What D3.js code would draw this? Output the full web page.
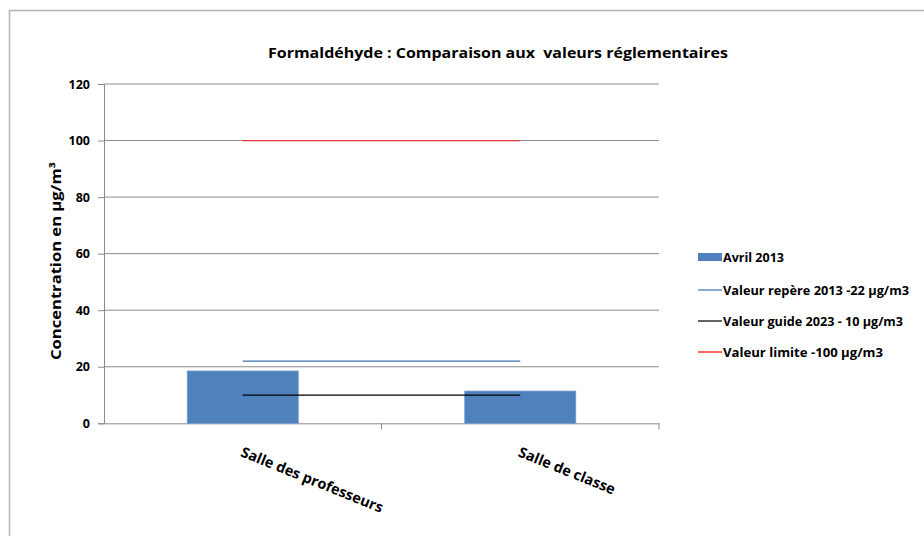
<!DOCTYPE html>
<html><head><meta charset="utf-8">
<script src="https://cdn.jsdelivr.net/npm/d3@7"></script>
<style>
html,body{margin:0;padding:0;background:#fff;}
text{font-family:"Open Sans","Noto Sans",sans-serif;font-weight:bold;fill:#000;white-space:pre;}
</style></head>
<body>
<svg id="chart" width="924" height="536"></svg>
<script>
const categories = ["Salle des professeurs", "Salle de classe"];
const avril2013 = [18.5, 11.4];
const valeurRepere = [22, 22];
const valeurGuide = [10, 10];
const valeurLimite = [100, 100];
const yTicks = [0, 20, 40, 60, 80, 100, 120];
const seriesNames = ["Avril 2013", "Valeur repère 2013 -22 µg/m3", "Valeur guide 2023 - 10 µg/m3", "Valeur limite -100 µg/m3"];
const titleText = "Formaldéhyde : Comparaison aux  valeurs réglementaires";
const yTitle = "Concentration en µg/m³";

const svg = d3.select("#chart");
const P = {left:104, right:659, top:84, bottom:423.3};

// outer border
svg.append("rect").attr("x",9.5).attr("y",10.5).attr("width",1000).attr("height",1000)
  .attr("fill","none").attr("stroke","#b4b4b4").attr("stroke-width",1.5);

const x = d3.scaleBand().domain(categories).range([P.left,P.right]).padding(0);
const y = d3.scaleLinear().domain([0,120]).range([P.bottom,P.top]);
const grid = "#8a8a8a";

// gridlines
svg.append("g").selectAll("line").data(yTicks.filter(d=>d>0)).join("line")
  .attr("x1",P.left).attr("x2",P.right).attr("y1",d=>y(d)).attr("y2",d=>y(d))
  .attr("stroke",grid).attr("stroke-width",1);

// y axis
const yAxis = svg.append("g").attr("transform",`translate(${P.left},0)`)
  .call(d3.axisLeft(y).tickValues(yTicks).tickSize(6).tickPadding(8).tickFormat(d3.format("d")));
yAxis.select(".domain").attr("stroke",grid);
yAxis.selectAll(".tick line").attr("stroke",grid);
yAxis.selectAll(".tick text").style("font-size","12.5px").style("font-family","'Open Sans',sans-serif").style("font-weight","bold").attr("fill","#000");

// x axis
const xAxis = svg.append("g").attr("transform",`translate(0,${P.bottom})`)
  .call(d3.axisBottom(x).tickSize(0).tickFormat(""));
xAxis.select(".domain").attr("stroke",grid);
svg.append("g").selectAll("line").data([P.left + x.step(), P.right]).join("line")
  .attr("x1",d=>d).attr("x2",d=>d).attr("y1",P.bottom).attr("y2",P.bottom+6).attr("stroke",grid);

// bars
const bw = x.bandwidth()*0.4;
svg.append("g").selectAll("rect").data(avril2013).join("rect")
  .attr("x",(d,i)=>x(categories[i])+x.bandwidth()/2-bw/2)
  .attr("width",bw)
  .attr("y",d=>y(d)).attr("height",d=>y(0)-y(d))
  .attr("fill","#4f81bd").attr("stroke","#6f9ad0").attr("stroke-width",0.8);

// lines
const cx = c => x(c)+x.bandwidth()/2;
const lineGen = d3.line().x((d,i)=>cx(categories[i])).y(d=>y(d));
[[valeurRepere,"#3f6fae"],[valeurGuide,"#000"],[valeurLimite,"#e0393b"]].forEach(([data,col])=>{
  svg.append("path").datum(data).attr("d",lineGen).attr("fill","none").attr("stroke",col).attr("stroke-width",1.3);
});

// x labels
svg.append("g").selectAll("text").data(categories).join("text")
  .attr("transform",d=>`translate(${cx(d)-3},${456}) rotate(22)`)
  .style("font-size","14.5px").text(d=>d);

// title
svg.append("text").attr("x",498).attr("y",58).attr("text-anchor","middle")
  .style("font-size","15px").attr("textLength",460).attr("lengthAdjust","spacingAndGlyphs").text(titleText);

// y title
svg.append("text").attr("transform","translate(61,261) rotate(-90)").attr("text-anchor","middle")
  .style("font-size","14px").attr("textLength",198).attr("lengthAdjust","spacingAndGlyphs").text(yTitle);

// legend
const lg = svg.append("g");
const legY = [257, 290, 321, 352];
const legW = [61, 186, 180, 160];
seriesNames.forEach((n,i)=>{
  if(i===0){
    lg.append("rect").attr("x",698).attr("y",legY[i]-4).attr("width",24).attr("height",8).attr("fill","#4f81bd");
  } else {
    const col = ["","#3f6fae","#000","#ff0000"][i];
    lg.append("line").attr("x1",698).attr("x2",722).attr("y1",legY[i]).attr("y2",legY[i]).attr("stroke",col).attr("stroke-width",1.2);
  }
  lg.append("text").attr("x",723).attr("y",legY[i]+5).style("font-size","13px")
    .attr("textLength",legW[i]).attr("lengthAdjust","spacingAndGlyphs").text(n);
});
</script>
</body></html>
